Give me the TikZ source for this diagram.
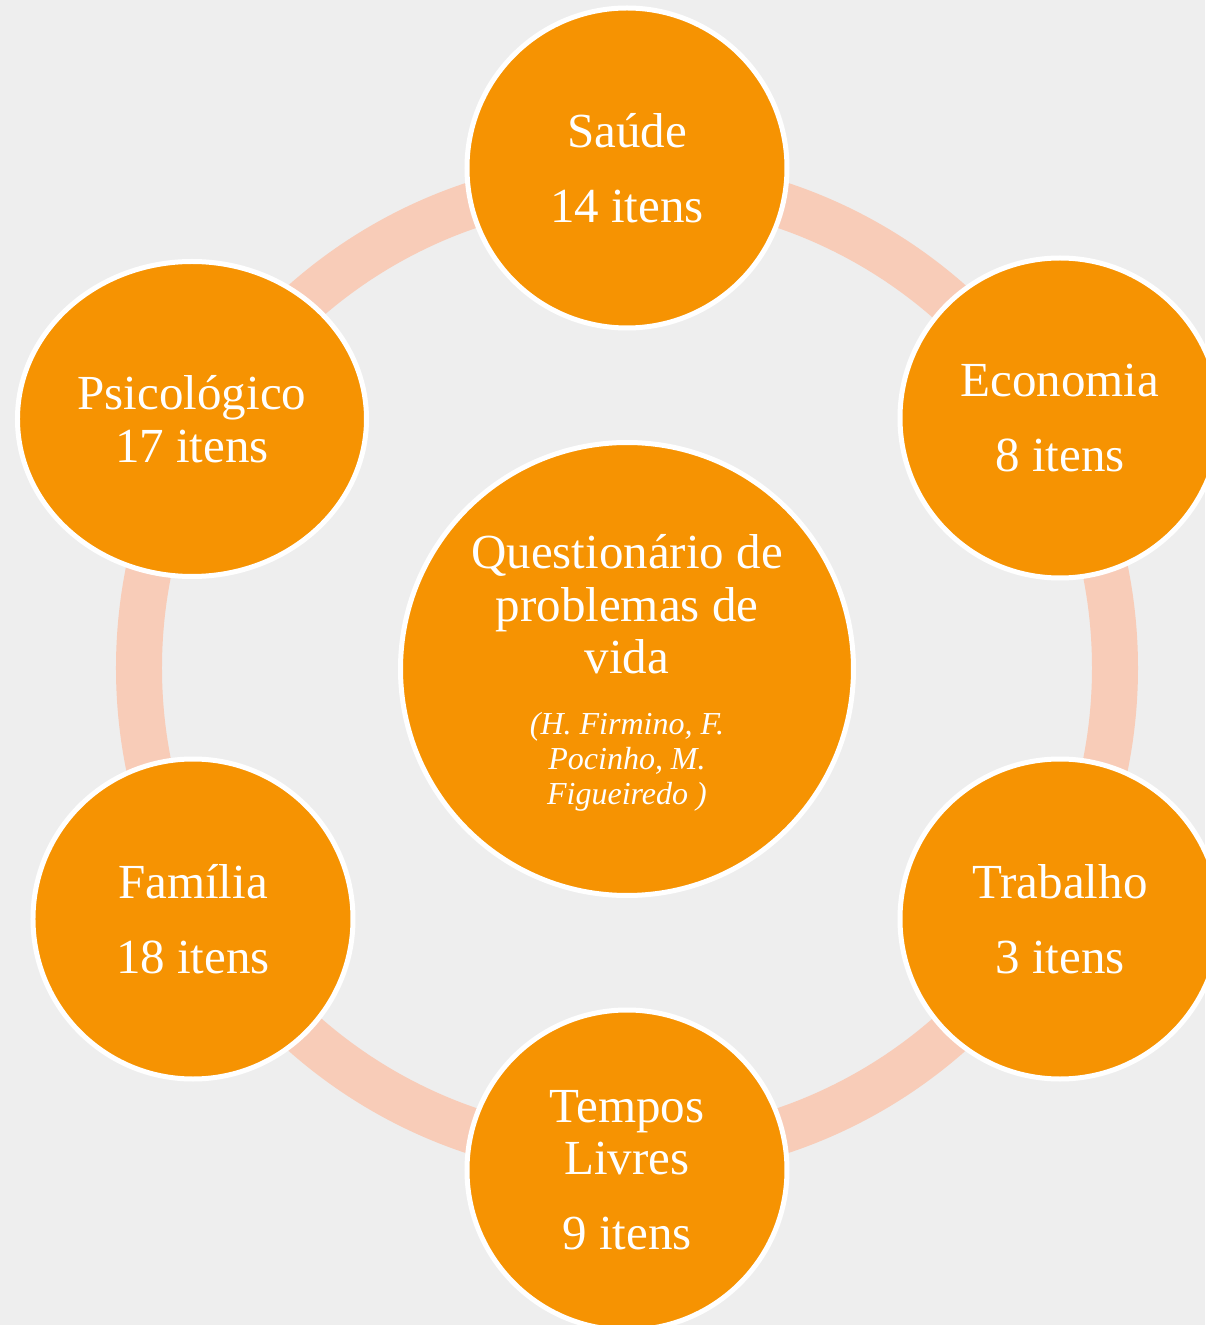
\documentclass[tikz,border=0pt]{standalone}
\usepackage{fontspec}
\setmainfont{Liberation Serif}
\usetikzlibrary{shapes.geometric}

\definecolor{cycbg}{RGB}{238,238,238}
\definecolor{cycring}{RGB}{248,204,184}
\definecolor{cycorange}{RGB}{246,147,2}

\newcommand{\authfont}{\fontsize{32}{35}\itshape\selectfont}

\tikzset{
  topic/.style={circle, draw=white, line width=5pt, fill=cycorange,
    text=white, minimum size=320pt, inner sep=0pt, align=center,
    font=\fontsize{49}{52.5}\selectfont},
  psyshape/.style={topic, ellipse, minimum width=349pt, minimum height=315pt}
}

\begin{document}
\begin{tikzpicture}[x=1pt,y=1pt]
      %% \draw [help lines, step=50] (-627,-657) grid (578,668);
      \path [use as bounding box, fill=cycbg] (-627,-657) rectangle (578,668);

      \draw [cycring, line width=46pt] (0,0) circle (488);

      \node [topic] (saude) at (0,500) {Saúde\\[22pt]14 itens};
      \node [topic] (economia) at (433,250) {Economia\\[22pt]8 itens};
      \node [topic] (trabalho) at (433,-251) {Trabalho\\[22pt]3 itens};
      \node [topic] (tempos) at (0,-502) {Tempos\\Livres\\[22pt]9 itens};
      \node [topic] (familia) at (-434,-251) {Família\\[22pt]18 itens};
      \node [psyshape] (psico) at (-435,249) {Psicológico\\17 itens};

      \node [topic, minimum size=453pt] (quest) at (0,-1)
      {\rule{0pt}{41.5pt}Questionário de\\problemas de\\vida\\[8pt]
       {\authfont (H. Firmino, F.}\\[-17.5pt]
       {\authfont Pocinho, M.}\\[-17.5pt]
       {\authfont Figueiredo )}};

\end{tikzpicture}
\end{document}
